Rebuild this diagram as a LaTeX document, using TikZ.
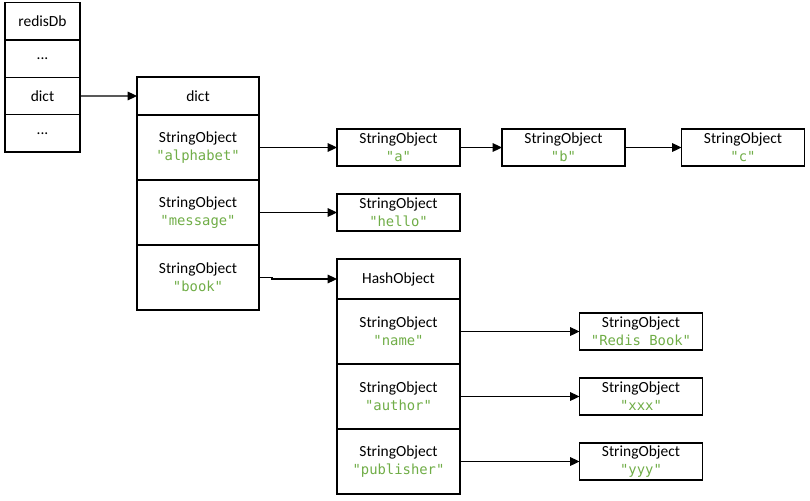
\documentclass[tikz,border=0pt]{standalone}
\usepackage{fontspec}
\setmainfont{Carlito}
\newfontfamily\strfont{DejaVu Sans Mono}
\usepackage{tikz}
\usetikzlibrary{arrows.meta}
\usetikzlibrary{positioning}
\definecolor{strgreen}{RGB}{112,173,71}
\newcommand{\strval}[1]{{\strfont\fontsize{10.4}{13.5}\selectfont\color{strgreen}#1}}
\begin{document}
\begin{tikzpicture}[x=0.75pt,y=-0.75pt,node distance=0pt,
  every node/.style={draw,line width=0.8pt,inner sep=0pt,outer sep=0pt,align=center,font=\fontsize{11.6}{13.5}\selectfont},
  dbcell/.style={minimum width=56.25pt,minimum height=28pt},
  dicthead/.style={minimum width=91.5pt,minimum height=28.5pt},
  dictcell/.style={minimum width=91.5pt,minimum height=48.75pt},
  hashhead/.style={minimum width=92.25pt,minimum height=30pt},
  objbox/.style={minimum width=92.25pt,minimum height=27.75pt},
  link/.style={line width=0.8pt,-{Triangle[length=7pt,width=6.5pt]}}]
\useasboundingbox (0,0) rectangle (810,500);
  \node (0) at (42.5,21.3)[dbcell]{redisDb};
  \node[below=of 0,dbcell] (1){...};
  \node[below=of 1,dbcell] (2){dict};
  \node[below=of 2,dbcell] (3){...};
  \node (dict) at (198,96)[dicthead]{dict};
  \node[below=of dict,dictcell] (k1){StringObject\\\strval{"alphabet"}};
  \node[below=of k1,dictcell] (k2){StringObject\\\strval{"message"}};
  \node[below=of k2,dictcell] (k3){StringObject\\\strval{"book"}};
  \node (a) at (398.5,147.5)[objbox]{StringObject\\\strval{"a"}};
  \node (b) at (563.5,147.5)[objbox]{StringObject\\\strval{"b"}};
  \node (c) at (743,147.5)[objbox]{StringObject\\\strval{"c"}};
  \node (hello) at (398.5,212.5)[objbox]{StringObject\\\strval{"hello"}};
  \node (hash) at (398.5,279)[hashhead]{HashObject};
  \node[below=of hash,dictcell,minimum width=92.25pt] (h1){StringObject\\\strval{"name"}};
  \node[below=of h1,dictcell,minimum width=92.25pt] (h2){StringObject\\\strval{"author"}};
  \node[below=of h2,dictcell,minimum width=92.25pt] (h3){StringObject\\\strval{"publisher"}};
  \node (v1) at (641,331.5)[objbox]{StringObject\\\strval{"Redis Book"}};
  \node (v2) at (641,396.5)[objbox]{StringObject\\\strval{"xxx"}};
  \node (v3) at (641,461.5)[objbox]{StringObject\\\strval{"yyy"}};
  \draw[link](2)--(dict);
  \draw[link](k1)--(a);
  \draw[link](a)--(b);
  \draw[link](b)--(c);
  \draw[link](k2)--(hello);
  \draw[link](k3.east)--++(13,0)|-(hash.west);
  \draw[link](h1)--(v1);
  \draw[link](h2)--(v2);
  \draw[link](h3)--(v3);
\end{tikzpicture}
\end{document}
